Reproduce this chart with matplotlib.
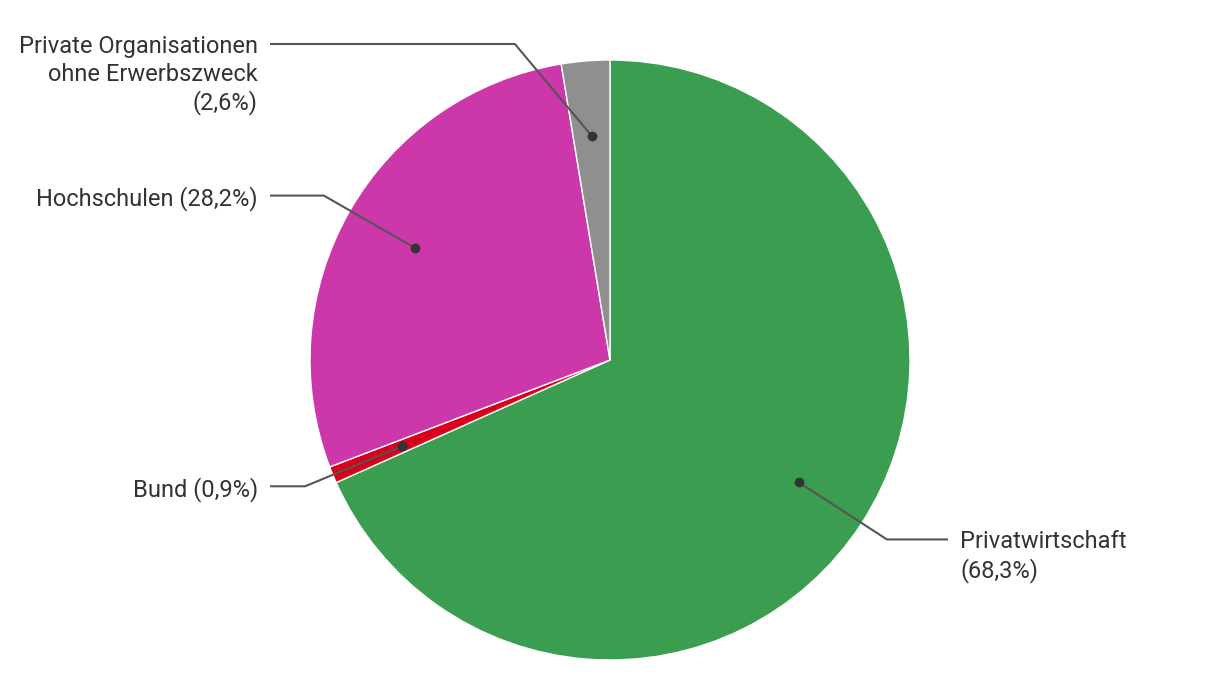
import numpy as np
import matplotlib
matplotlib.use("Agg")
import matplotlib.pyplot as plt

labels = ["Privatwirtschaft", "Bund", "Hochschulen", "Private Organisationen\nohne Erwerbszweck"]
values = [68.3, 0.9, 28.2, 2.6]
colors = ["#3a9d4f", "#d9001b", "#cc37aa", "#8f8f8f"]

W, H = 1220, 700
fig = plt.figure(figsize=(W / 100, H / 100), dpi=100)
ax = fig.add_axes([0, 0, 1, 1])

cx, cy, R = 610, 340, 300
wedges, _ = ax.pie(values, colors=colors, startangle=90, counterclock=False,
                   center=(cx, cy), radius=R, frame=True,
                   wedgeprops=dict(edgecolor="white", linewidth=1))
ax.set_xlim(0, W)
ax.set_ylim(0, H)
ax.axis("off")

# label layout: optional fixed label y (pixels from top)
fixed_y = {3: 44}
text_col = "#333333"
line_col = "#555555"
LINE_H = 28
for i, w in enumerate(wedges):
    mid = np.deg2rad((w.theta1 + w.theta2) / 2)
    dx, dy = np.cos(mid), np.sin(mid)
    px, py = cx + 0.75 * R * dx, cy + 0.75 * R * dy
    if i in fixed_y:
        ey = H - fixed_y[i]
        ex = cx + np.sign(dx) * np.sqrt((1.1 * R) ** 2 - (ey - cy) ** 2)
    else:
        ex, ey = cx + 1.1 * R * dx, cy + 1.1 * R * dy
    if dx >= 0:
        lx, tx, ha = 948, 960, "left"
    else:
        lx, tx, ha = 270, 258, "right"
    ax.plot([px, ex, lx], [py, ey, ey], color=line_col, lw=1.5, solid_capstyle="butt")
    ax.plot([px], [py], "o", color="#333333", ms=6)
    pct = f"({str(values[i]).replace('.', ',')}%)"
    if "\n" in labels[i] or len(labels[i]) > 12:
        lines = labels[i].split("\n") + [pct]
    else:
        lines = [f"{labels[i]} {pct}"]
    for k, line in enumerate(lines):
        ax.text(tx, ey - k * LINE_H, line, ha=ha, va="center_baseline", fontsize=17,
                family="Roboto", color=text_col)

fig.savefig("out.png", dpi=100)
